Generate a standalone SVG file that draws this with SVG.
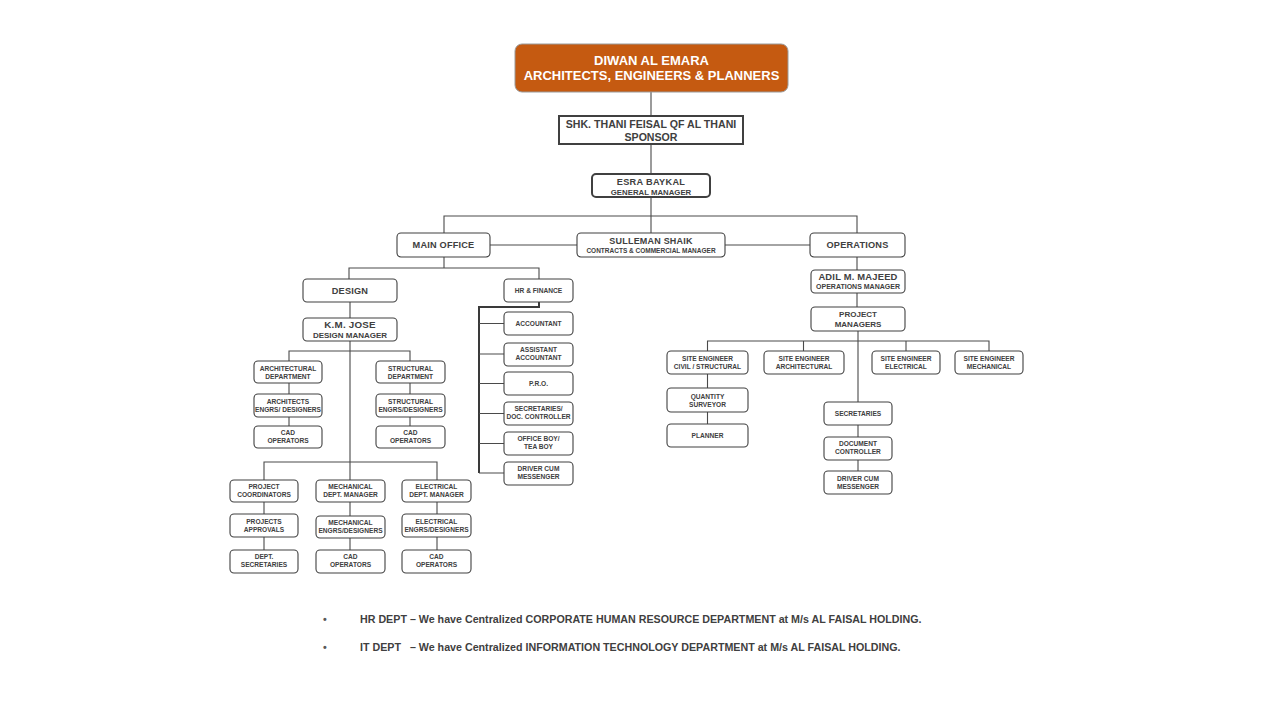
<svg xmlns="http://www.w3.org/2000/svg" width="1280" height="720" viewBox="0 0 1280 720">
<style>
.bg{fill:#ffffff}
.box{fill:#ffffff;stroke:#404040;stroke-width:1.1}
.bx2{fill:#ffffff;stroke:#404040;stroke-width:2}
.c{fill:none;stroke:#4a4a4a;stroke-width:1.1}
.ck{fill:none;stroke:#3a3a3a;stroke-width:2}
text{font-family:"Liberation Sans",Arial,sans-serif;font-weight:bold;fill:#404040;text-anchor:middle}
.s{font-size:6.6px}
.m{font-size:8px}
.l{font-size:9.2px;letter-spacing:0.2px}
.w{fill:#ffffff;font-size:13px}
.b{font-size:10.7px;text-anchor:start;white-space:pre}
</style>
<rect class="bg" x="0" y="0" width="1280" height="720"/>
<g id="connectors">
<path class="c" d="M651,92V116M651,144V174M651,197V233M444,233V216H857V233M490,245H577M725,245H810"/>
<path class="c" d="M444,257V268M349,279V268H539V279M350,302V318M350,341V462"/>
<path class="c" d="M289,361V351H410V361M289,383V394M289,417V426M410,383V394M410,417V426"/>
<path class="c" d="M264,480V462H437V480M350,462V480M264,502V514M264,537V550M350,502V516M350,538V550M437,502V514M437,537V550"/>
<path class="ck" d="M539,302V307H479V473"/>
<path class="c" d="M479,323.5H504M479,354H504M479,383.5H504M479,413.5H504M479,443.5H504M479,473H504"/>
<path class="c" d="M857,257V270M857,293V307M858,331V402M707.5,351V341H989V351M803.5,341V351M906,341V351M707.5,374V388M707.5,412V424M858,425V437M858,460V471"/>
</g>
<g id="n-top"><rect x="515" y="44" width="273" height="48" rx="7" fill="#C55A11" stroke="#9a9a9a" stroke-width="1"/><text class="w" x="651.5" y="65">DIWAN AL EMARA</text><text class="w" x="651.5" y="79.5">ARCHITECTS, ENGINEERS &amp; PLANNERS</text></g>
<g id="n-sponsor"><rect class="bx2" x="559" y="116" width="184" height="28"/><text x="651" y="127.5" style="font-size:10.6px">SHK. THANI FEISAL QF AL THANI</text><text x="651" y="140.5" style="font-size:10.6px">SPONSOR</text></g>
<g id="n-gm"><rect class="bx2" x="592" y="174" width="118" height="23" rx="4"/><text x="651" y="185" style="font-size:9.2px;letter-spacing:0.3px">ESRA BAYKAL</text><text x="651" y="194.5" style="font-size:7.8px">GENERAL MANAGER</text></g>
<g id="n-mainoffice"><rect class="box" x="397" y="233" width="93" height="24" rx="4"/><text class="l" x="443.5" y="248">MAIN OFFICE</text></g>
<g id="n-sulleman"><rect class="box" x="577" y="233" width="148" height="24" rx="4"/><text x="651" y="244" style="font-size:9px;letter-spacing:0.2px">SULLEMAN SHAIK</text><text x="651" y="253" style="font-size:6.5px">CONTRACTS &amp; COMMERCIAL MANAGER</text></g>
<g id="n-operations"><rect class="box" x="810" y="233" width="95" height="24" rx="4"/><text class="l" x="857.5" y="248">OPERATIONS</text></g>
<g id="n-design"><rect class="box" x="303" y="279" width="94" height="23" rx="4"/><text class="l" x="350" y="294">DESIGN</text></g>
<g id="n-hrfin"><rect class="box" x="504" y="279" width="69" height="23" rx="4"/><text class="s" x="538.5" y="293">HR &amp; FINANCE</text></g>
<g id="n-kmjose"><rect class="box" x="303" y="318" width="94" height="23" rx="4"/><text x="350" y="328" style="font-size:9.8px;letter-spacing:0.2px">K.M. JOSE</text><text class="m" x="350" y="337.5">DESIGN MANAGER</text></g>
<g id="n-archdept"><rect class="box" x="254" y="361" width="68" height="22" rx="4"/><text class="s" x="288" y="371">ARCHITECTURAL</text><text class="s" x="288" y="379">DEPARTMENT</text></g>
<g id="n-archeng"><rect class="box" x="254" y="394" width="68" height="23" rx="4"/><text class="s" x="288" y="403.5">ARCHITECTS</text><text class="s" x="288" y="411.5">ENGRS/ DESIGNERS</text></g>
<g id="n-archcad"><rect class="box" x="254" y="426" width="68" height="22" rx="4"/><text class="s" x="288" y="435">CAD</text><text class="s" x="288" y="443">OPERATORS</text></g>
<g id="n-strdept"><rect class="box" x="376" y="361" width="69" height="22" rx="4"/><text class="s" x="410.5" y="371">STRUCTURAL</text><text class="s" x="410.5" y="379">DEPARTMENT</text></g>
<g id="n-streng"><rect class="box" x="376" y="394" width="69" height="23" rx="4"/><text class="s" x="410.5" y="403.5">STRUCTURAL</text><text class="s" x="410.5" y="411.5">ENGRS/DESIGNERS</text></g>
<g id="n-strcad"><rect class="box" x="376" y="426" width="69" height="22" rx="4"/><text class="s" x="410.5" y="435">CAD</text><text class="s" x="410.5" y="443">OPERATORS</text></g>
<g id="n-projcoord"><rect class="box" x="230" y="480" width="68" height="22" rx="4"/><text class="s" x="264" y="489">PROJECT</text><text class="s" x="264" y="497">COORDINATORS</text></g>
<g id="n-projappr"><rect class="box" x="230" y="514" width="68" height="23" rx="4"/><text class="s" x="264" y="524">PROJECTS</text><text class="s" x="264" y="532">APPROVALS</text></g>
<g id="n-deptsec"><rect class="box" x="230" y="550" width="68" height="23" rx="4"/><text class="s" x="264" y="559">DEPT.</text><text class="s" x="264" y="567">SECRETARIES</text></g>
<g id="n-mechmgr"><rect class="box" x="316" y="480" width="69" height="22" rx="4"/><text class="s" x="350.5" y="489">MECHANICAL</text><text class="s" x="350.5" y="497">DEPT. MANAGER</text></g>
<g id="n-mecheng"><rect class="box" x="316" y="516" width="69" height="22" rx="4"/><text class="s" x="350.5" y="525">MECHANICAL</text><text class="s" x="350.5" y="533">ENGRS/DESIGNERS</text></g>
<g id="n-mechcad"><rect class="box" x="316" y="550" width="69" height="23" rx="4"/><text class="s" x="350.5" y="559">CAD</text><text class="s" x="350.5" y="567">OPERATORS</text></g>
<g id="n-elecmgr"><rect class="box" x="402" y="480" width="69" height="22" rx="4"/><text class="s" x="436.5" y="489">ELECTRICAL</text><text class="s" x="436.5" y="497">DEPT. MANAGER</text></g>
<g id="n-eleceng"><rect class="box" x="402" y="514" width="69" height="23" rx="4"/><text class="s" x="436.5" y="524">ELECTRICAL</text><text class="s" x="436.5" y="532">ENGRS/DESIGNERS</text></g>
<g id="n-eleccad"><rect class="box" x="402" y="550" width="69" height="23" rx="4"/><text class="s" x="436.5" y="559">CAD</text><text class="s" x="436.5" y="567">OPERATORS</text></g>
<g id="n-accountant"><rect class="box" x="504" y="312" width="69" height="23" rx="4"/><text class="s" x="538.5" y="326">ACCOUNTANT</text></g>
<g id="n-asstacc"><rect class="box" x="504" y="343" width="69" height="23" rx="4"/><text class="s" x="538.5" y="352">ASSISTANT</text><text class="s" x="538.5" y="360">ACCOUNTANT</text></g>
<g id="n-pro"><rect class="box" x="504" y="372" width="69" height="23" rx="4"/><text class="s" x="538.5" y="386">P.R.O.</text></g>
<g id="n-secdoc"><rect class="box" x="504" y="402" width="69" height="23" rx="4"/><text class="s" x="538.5" y="411">SECRETARIES/</text><text class="s" x="538.5" y="419">DOC. CONTROLLER</text></g>
<g id="n-officeboy"><rect class="box" x="504" y="432" width="69" height="23" rx="4"/><text class="s" x="538.5" y="441">OFFICE BOY/</text><text class="s" x="538.5" y="449">TEA BOY</text></g>
<g id="n-driver1"><rect class="box" x="504" y="462" width="69" height="23" rx="4"/><text class="s" x="538.5" y="471">DRIVER CUM</text><text class="s" x="538.5" y="479">MESSENGER</text></g>
<g id="n-adil"><rect class="box" x="811" y="270" width="94" height="23" rx="4"/><text x="858" y="280" style="font-size:9.4px;letter-spacing:0.2px">ADIL M. MAJEED</text><text x="858" y="289" style="font-size:7px">OPERATIONS MANAGER</text></g>
<g id="n-pm"><rect class="box" x="811" y="307" width="94" height="24" rx="4"/><text class="m" x="858" y="317">PROJECT</text><text class="m" x="858" y="326.5">MANAGERS</text></g>
<g id="n-secivil"><rect class="box" x="667" y="351" width="81" height="23" rx="4"/><text class="s" x="707.5" y="361">SITE ENGINEER</text><text class="s" x="707.5" y="369">CIVIL / STRUCTURAL</text></g>
<g id="n-search"><rect class="box" x="764" y="351" width="80" height="23" rx="4"/><text class="s" x="804" y="361">SITE ENGINEER</text><text class="s" x="804" y="369">ARCHITECTURAL</text></g>
<g id="n-seelec"><rect class="box" x="872" y="351" width="68" height="23" rx="4"/><text class="s" x="906" y="361">SITE ENGINEER</text><text class="s" x="906" y="369">ELECTRICAL</text></g>
<g id="n-semech"><rect class="box" x="955" y="351" width="68" height="23" rx="4"/><text class="s" x="989" y="361">SITE ENGINEER</text><text class="s" x="989" y="369">MECHANICAL</text></g>
<g id="n-qs"><rect class="box" x="667" y="388" width="81" height="24" rx="4"/><text class="s" x="707.5" y="399">QUANTITY</text><text class="s" x="707.5" y="407">SURVEYOR</text></g>
<g id="n-planner"><rect class="box" x="667" y="424" width="81" height="23" rx="4"/><text class="s" x="707.5" y="438">PLANNER</text></g>
<g id="n-sec2"><rect class="box" x="824" y="402" width="68" height="23" rx="4"/><text class="s" x="858" y="416">SECRETARIES</text></g>
<g id="n-docctrl"><rect class="box" x="824" y="437" width="68" height="23" rx="4"/><text class="s" x="858" y="446">DOCUMENT</text><text class="s" x="858" y="454">CONTROLLER</text></g>
<g id="n-driver2"><rect class="box" x="824" y="471" width="68" height="23" rx="4"/><text class="s" x="858" y="481">DRIVER CUM</text><text class="s" x="858" y="489">MESSENGER</text></g>
<g id="notes">
<text class="b" x="323" y="623" style="fill:#595959">•</text>
<text class="b" x="360" y="623">HR DEPT – We have Centralized CORPORATE HUMAN RESOURCE DEPARTMENT at M/s AL FAISAL HOLDING.</text>
<text class="b" x="323" y="651" style="fill:#595959">•</text>
<text class="b" x="360" y="651">IT DEPT   – We have Centralized INFORMATION TECHNOLOGY DEPARTMENT at M/s AL FAISAL HOLDING.</text>
</g>
</svg>
